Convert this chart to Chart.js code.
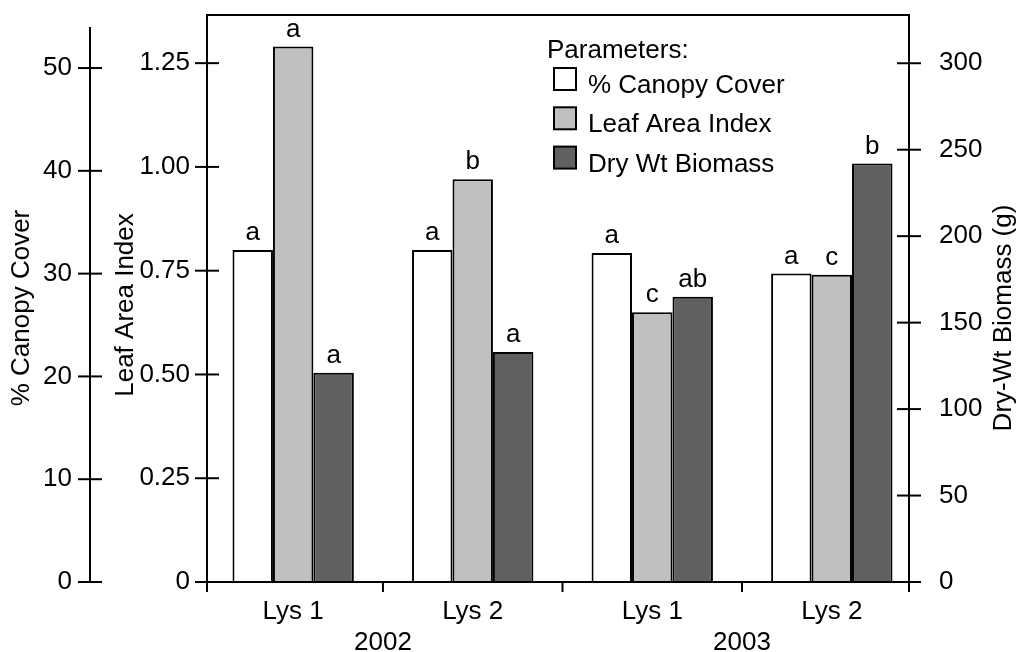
<!DOCTYPE html>
<html lang="en">
<head>
<meta charset="UTF-8">
<title>Canopy cover, LAI and biomass</title>
<script src="https://cdn.jsdelivr.net/npm/chart.js@4.4.1/dist/chart.umd.min.js"></script>
<style>
  body { margin: 0; background: #fff; }
  #chart { display: block; }
</style>
</head>
<body>
<canvas id="chart" width="1019" height="652"></canvas>
<script>
// lysimeter / year groups
const groups = ['Lys 1', 'Lys 2', 'Lys 1', 'Lys 2'];
const years = ['2002', '2003'];

const canopyCover = [32.3, 32.3, 32.0, 30.0];   // %
const leafAreaIndex = [1.29, 0.97, 0.65, 0.74];
const dryBiomass = [121, 133, 165, 242];        // g

// mean separation letters above the bars
const canopyLetters = ['a', 'a', 'a', 'a'];
const laiLetters = ['a', 'b', 'c', 'c'];
const biomassLetters = ['a', 'a', 'ab', 'b'];

const canopyTicks = [0, 10, 20, 30, 40, 50];
const laiTicks = [0, 0.25, 0.5, 0.75, 1.0, 1.25];
const biomassTicks = [0, 50, 100, 150, 200, 250, 300];

const FAMILY = '"Liberation Sans", Arial, sans-serif';
const FONT = '26px ' + FAMILY;
const xMin = 0.52, xMax = 4.43;

Chart.defaults.font.family = FAMILY;
Chart.defaults.font.size = 26;
Chart.defaults.color = '#000';

function line(ctx, x1, y1, x2, y2) {
  ctx.beginPath();
  ctx.moveTo(x1, y1);
  ctx.lineTo(x2, y2);
  ctx.stroke();
}

function vTitle(ctx, text, x, y) {
  ctx.save();
  ctx.translate(x, y);
  ctx.rotate(-Math.PI / 2);
  ctx.textAlign = 'center';
  ctx.textBaseline = 'middle';
  ctx.fillText(text, 0, 0);
  ctx.restore();
}

// no extra padding from tick labels, fixed box sizes
const fixWidth = w => s => { s.width = w; s.paddingTop = 0; s.paddingBottom = 0; };
const fixHeight = h => s => { s.height = h; s.paddingLeft = 0; s.paddingRight = 0; };

const extras = {
  id: 'extras',
  afterDraw(chart) {
    const ctx = chart.ctx;
    const { x, y, yc, yb } = chart.scales;
    const area = chart.chartArea;
    ctx.save();
    ctx.strokeStyle = '#000';
    ctx.fillStyle = '#000';
    ctx.lineWidth = 2;

    // top of the frame
    line(ctx, area.left - 1, area.top, area.right + 1, area.top);

    // canopy axis stops below the frame top
    line(ctx, yc.right, yc.getPixelForValue(0), yc.right, yc.getPixelForValue(54));

    // tick marks crossing the axis lines
    [[yc, yc.right], [y, area.left], [yb, area.right]].forEach(([s, ax]) => {
      s.ticks.forEach(t => {
        const py = s.getPixelForValue(t.value);
        line(ctx, ax - 12, py, ax + 12, py);
      });
    });

    // separators between groups, below the x axis
    const seps = [x.left, x.right];
    for (let i = 1; i < groups.length; i++) seps.push(x.getPixelForValue(i + 0.5));
    seps.forEach(px => line(ctx, px, area.bottom, px, area.bottom + 10));

    ctx.font = FONT;
    vTitle(ctx, '% Canopy Cover', 22, 308);
    vTitle(ctx, 'Leaf Area Index', 126, 305);
    vTitle(ctx, 'Dry-Wt Biomass (g)', 1004, 318);

    // letters over bars
    const letters = [canopyLetters, laiLetters, biomassLetters];
    ctx.textAlign = 'center';
    ctx.textBaseline = 'alphabetic';
    letters.forEach((arr, i) => {
      chart.getDatasetMeta(i).data.forEach((bar, j) => {
        ctx.fillText(arr[j], bar.x, bar.y - 10);
      });
    });

    // legend
    ctx.textAlign = 'left';
    ctx.fillText('Parameters:', 547, 58);
    chart.data.datasets.forEach((ds, i) => {
      const top = 68 + i * 39.3;
      ctx.fillStyle = ds.backgroundColor;
      ctx.fillRect(554, top, 22, 22);
      ctx.lineWidth = 2;
      ctx.strokeRect(554, top, 22, 22);
      ctx.fillStyle = '#000';
      ctx.fillText(ds.label, 588, top + 25);
    });
    ctx.restore();
  }
};

const toPoints = arr => arr.map((v, i) => ({ x: i + 1, y: v }));

new Chart(document.getElementById('chart'), {
  type: 'bar',
  data: {
    datasets: [
      { label: '% Canopy Cover', data: toPoints(canopyCover), yAxisID: 'yc',
        backgroundColor: '#ffffff', borderColor: '#000', borderWidth: 2 },
      { label: 'Leaf Area Index', data: toPoints(leafAreaIndex), yAxisID: 'y',
        backgroundColor: '#c0c0c0', borderColor: '#000', borderWidth: 2 },
      { label: 'Dry Wt Biomass', data: toPoints(dryBiomass), yAxisID: 'yb',
        backgroundColor: '#606060', borderColor: '#000', borderWidth: 2 }
    ]
  },
  options: {
    responsive: false,
    animation: false,
    categoryPercentage: 0.676,
    barPercentage: 1,
    layout: { padding: { top: 15, left: 0, right: 0, bottom: 0 } },
    plugins: { legend: { display: false }, tooltip: { enabled: false } },
    scales: {
      x: {
        type: 'linear', position: 'bottom', offset: false, min: xMin, max: xMax,
        afterBuildTicks: s => { s.ticks = groups.map((g, i) => ({ value: i + 1 })); },
        ticks: { callback: (v, i) => groups[i], padding: 14, autoSkip: false, maxRotation: 0 },
        grid: { display: false, drawTicks: false },
        border: { color: '#000', width: 2, z: 1 },
        afterFit: fixHeight(44)
      },
      x2: {
        type: 'linear', position: 'bottom', offset: false, weight: 1, min: xMin, max: xMax,
        afterBuildTicks: s => { s.ticks = years.map((yr, i) => ({ value: 2 * i + 1.5 })); },
        ticks: { callback: (v, i) => years[i], padding: 1, autoSkip: false, maxRotation: 0 },
        grid: { display: false, drawTicks: false },
        border: { display: false },
        afterFit: fixHeight(26)
      },
      y: {
        type: 'linear', position: 'left', min: 0, max: 1.366,
        afterBuildTicks: s => { s.ticks = laiTicks.map(v => ({ value: v })); },
        ticks: { callback: v => v === 0 ? '0' : v.toFixed(2), padding: 17 },
        grid: { display: false, drawTicks: false },
        border: { color: '#000', width: 2, z: 1 },
        afterFit: fixWidth(117)
      },
      yc: {
        type: 'linear', position: 'left', weight: 1, min: 0, max: 55.16,
        afterBuildTicks: s => { s.ticks = canopyTicks.map(v => ({ value: v })); },
        ticks: { callback: v => String(v), padding: 18 },
        grid: { display: false, drawTicks: false },
        border: { display: false },
        afterFit: fixWidth(90)
      },
      yb: {
        type: 'linear', position: 'right', min: 0, max: 327.9,
        afterBuildTicks: s => { s.ticks = biomassTicks.map(v => ({ value: v })); },
        ticks: { callback: v => String(v), padding: 30 },
        grid: { display: false, drawTicks: false },
        border: { color: '#000', width: 2, z: 1 },
        afterFit: fixWidth(110)
      }
    }
  },
  plugins: [extras]
});
</script>
</body>
</html>
